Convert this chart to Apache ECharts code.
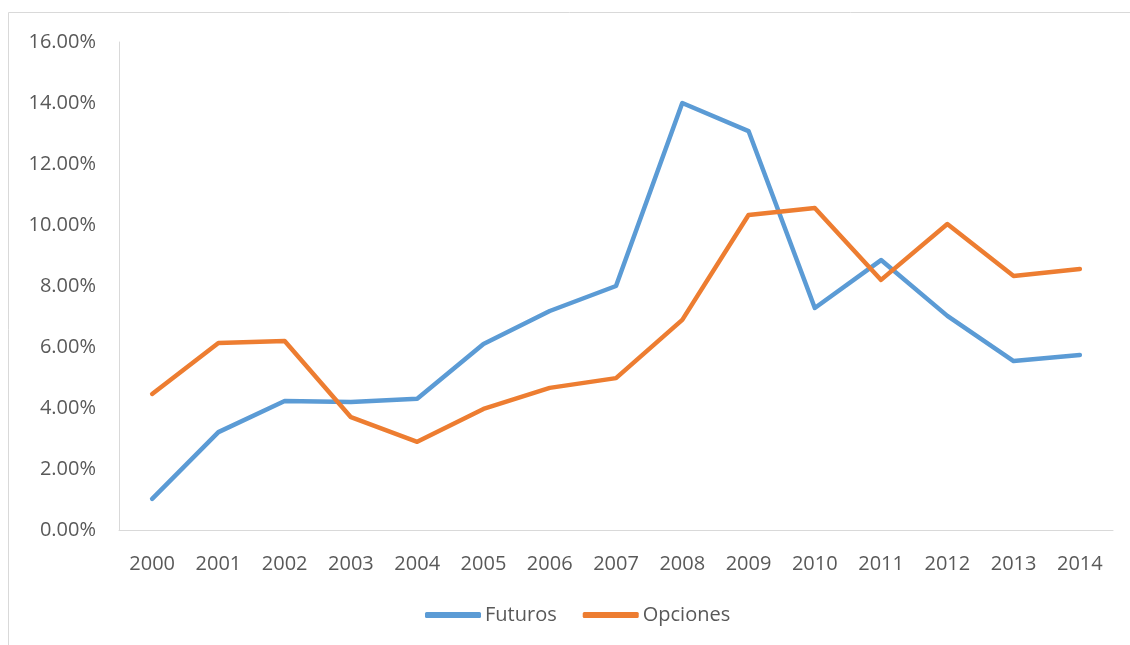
<!DOCTYPE html>
<html><head><meta charset="utf-8">
<script src="https://cdn.jsdelivr.net/npm/echarts@6/dist/echarts.min.js"></script>
<style>html,body{margin:0;padding:0;background:#fff}#c{width:1130px;height:645px}</style>
</head><body><div id="c"></div>
<script>
const years = ['2000','2001','2002','2003','2004','2005','2006','2007','2008','2009','2010','2011','2012','2013','2014'];
const futuros = [1.02,3.21,4.23,4.20,4.30,6.10,7.18,8.00,14.00,13.08,7.28,8.85,7.02,5.54,5.74];
const opciones = [4.46,6.13,6.20,3.70,2.89,3.97,4.66,4.98,6.89,10.33,10.56,8.20,10.03,8.33,8.56];
const seriesNames = ['Futuros','Opciones'];
const font = 'Open Sans';
const chart = echarts.init(document.getElementById('c'));
chart.setOption({
  animation:false,
  color:['#5B9BD5','#ED7D31'],
  graphic:[{type:'rect',shape:{x:8.5,y:12.5,width:1200,height:700},style:{fill:null,stroke:'#d9d9d9',lineWidth:1},silent:true}],
  grid:{left:119,right:17,top:42,bottom:115},
  legend:{top:605,left:425,padding:0,itemWidth:56,itemHeight:6,itemGap:26,icon:'roundRect',
    textStyle:{fontFamily:font,fontSize:20,color:'#595959',padding:[0,0,0,-1]},data:seriesNames},
  xAxis:{type:'category',data:years,boundaryGap:true,
    axisLine:{lineStyle:{color:'#d9d9d9',width:1}},axisTick:{show:false},
    axisLabel:{fontFamily:font,fontSize:20,color:'#595959',margin:24}},
  yAxis:{type:'value',min:0,max:16,interval:2,
    axisLine:{show:true,lineStyle:{color:'#d9d9d9',width:1}},axisTick:{show:false},splitLine:{show:false},
    axisLabel:{fontFamily:font,fontSize:20,color:'#595959',margin:23,formatter:v=>v.toFixed(2)+'%'}},
  series:[
    {name:seriesNames[0],type:'line',data:futuros,symbol:'none',lineStyle:{width:4.5,cap:'round',join:'round'}},
    {name:seriesNames[1],type:'line',data:opciones,symbol:'none',lineStyle:{width:4.5,cap:'round',join:'round'}}
  ]
});
</script></body></html>
